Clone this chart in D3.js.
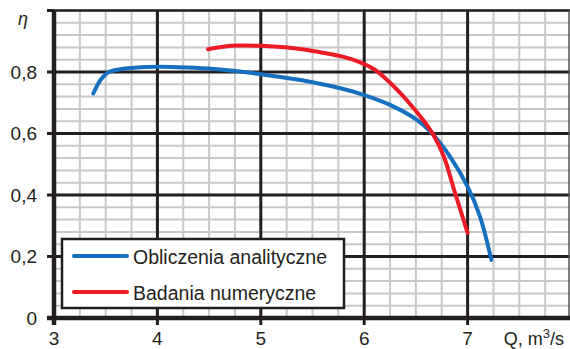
<!DOCTYPE html>
<html>
<head>
<meta charset="utf-8">
<script src="https://cdn.jsdelivr.net/npm/d3@7"></script>
<style>
  body { margin: 0; background: #fff; }
  svg { display: block; font-family: "Liberation Sans", Arial, sans-serif; }
</style>
</head>
<body>
<div id="chart"></div>
<script>
// ------ Data ------ //
const seriesNames = ["Obliczenia analityczne", "Badania numeryczne"];
const seriesColors = ["#1770bf", "#ed1c24"];

const blueQ   = [3.38, 3.45, 3.53, 3.64, 3.80, 4.00, 4.28, 4.55, 5.00, 5.40, 5.77, 6.00, 6.25, 6.51, 6.67, 6.83, 7.00, 7.12, 7.23];
const blueEta = [0.730, 0.774, 0.800, 0.809, 0.815, 0.817, 0.815, 0.810, 0.793, 0.773, 0.747, 0.725, 0.693, 0.644, 0.595, 0.525, 0.427, 0.330, 0.189];

const redQ   = [4.49, 4.65, 4.80, 5.00, 5.30, 5.55, 5.80, 5.95, 6.10, 6.25, 6.41, 6.57, 6.67, 6.77, 6.88, 7.00];
const redEta = [0.874, 0.883, 0.886, 0.885, 0.878, 0.866, 0.849, 0.833, 0.808, 0.765, 0.709, 0.644, 0.595, 0.525, 0.405, 0.277];

const xTicks = [3, 4, 5, 6, 7];
const yTicks = [0, 0.2, 0.4, 0.6, 0.8];

// ------ Drawing area ------ //
const width = 570;
const height = 349;
const svg = d3.select("#chart")
  .append("svg")
    .attr("width", width)
    .attr("height", height);

const x = d3.scaleLinear().domain([3, 8]).range([54, 571]);
const y = d3.scaleLinear().domain([0, 1]).range([318, 10.5]);

// ------ Grid ------ //
const minorX = d3.range(3, 8.001, 0.25);
const minorY = d3.range(0, 1.001, 0.04);

svg.append("g")
  .selectAll("line")
  .data(minorX)
  .join("line")
    .attr("x1", d => x(d)).attr("x2", d => x(d))
    .attr("y1", y(1)).attr("y2", y(0))
    .attr("stroke", "#c8c8c8")
    .attr("stroke-width", 2);

svg.append("g")
  .selectAll("line")
  .data(minorY)
  .join("line")
    .attr("x1", x(3)).attr("x2", x(8))
    .attr("y1", d => y(d)).attr("y2", d => y(d))
    .attr("stroke", "#c8c8c8")
    .attr("stroke-width", 2);

// major grid
svg.append("g")
  .selectAll("line")
  .data(xTicks.slice(1))
  .join("line")
    .attr("x1", d => x(d)).attr("x2", d => x(d))
    .attr("y1", y(1)).attr("y2", y(0) + 7)
    .attr("stroke", "#231f20")
    .attr("stroke-width", 3);

svg.append("g")
  .selectAll("line")
  .data(yTicks.slice(1))
  .join("line")
    .attr("x1", x(3) - 7).attr("x2", x(8))
    .attr("y1", d => y(d)).attr("y2", d => y(d))
    .attr("stroke", "#231f20")
    .attr("stroke-width", 3);

// top and right border
svg.append("line")
  .attr("x1", x(3)).attr("x2", x(8))
  .attr("y1", y(1)).attr("y2", y(1))
  .attr("stroke", "#231f20").attr("stroke-width", 2.5);
svg.append("line")
  .attr("x1", 569).attr("x2", 569)
  .attr("y1", y(1)).attr("y2", y(0))
  .attr("stroke", "#555").attr("stroke-width", 1.5);

// ------ Axes ------ //
const fmt = d => d === 0 ? "0" : d3.format(".1f")(d).replace(".", ",");

svg.append("line")
  .attr("x1", x(3)).attr("x2", x(3))
  .attr("y1", y(1)).attr("y2", y(0) + 7)
  .attr("stroke", "#231f20").attr("stroke-width", 4.5);
svg.append("line")
  .attr("x1", x(3) - 7).attr("x2", x(8))
  .attr("y1", y(0)).attr("y2", y(0))
  .attr("stroke", "#231f20").attr("stroke-width", 4.5);
// tick stub at top
svg.append("line")
  .attr("x1", x(3) - 7).attr("x2", x(3))
  .attr("y1", y(1)).attr("y2", y(1))
  .attr("stroke", "#231f20").attr("stroke-width", 3);

svg.append("g")
  .selectAll("text")
  .data(yTicks)
  .join("text")
    .attr("x", 37)
    .attr("y", d => y(d))
    .attr("text-anchor", "end")
    .attr("dominant-baseline", "central")
    .attr("font-size", 19)
    .attr("fill", "#231f20")
    .text(fmt);

svg.append("g")
  .selectAll("text")
  .data(xTicks)
  .join("text")
    .attr("x", d => x(d))
    .attr("y", 345)
    .attr("text-anchor", "middle")
    .attr("font-size", 19)
    .attr("fill", "#231f20")
    .text(d => d);

svg.append("text")
  .attr("x", 23).attr("y", 25)
  .attr("text-anchor", "middle")
  .attr("font-size", 18)
  .attr("font-style", "italic")
  .attr("fill", "#231f20")
  .text("η");

const qLabel = svg.append("text")
  .attr("x", 564).attr("y", 345)
  .attr("text-anchor", "end")
  .attr("font-size", 18)
  .attr("fill", "#231f20");
qLabel.append("tspan").text("Q, m");
qLabel.append("tspan").attr("dy", -7).attr("font-size", 13).text("3");
qLabel.append("tspan").attr("dy", 7).text("/s");

// ------ Curves ------ //
const line = d3.line()
  .x(d => x(d[0]))
  .y(d => y(d[1]))
  .curve(d3.curveCatmullRom.alpha(0.5));

const series = [
  d3.zip(blueQ, blueEta),
  d3.zip(redQ, redEta)
];

svg.append("g")
  .selectAll("path")
  .data(series)
  .join("path")
    .attr("d", line)
    .attr("fill", "none")
    .attr("stroke", (d, i) => seriesColors[i])
    .attr("stroke-width", 4)
    .attr("stroke-linecap", "round")
    .attr("stroke-linejoin", "round");

// ------ Legend ------ //
const legend = svg.append("g");
legend.append("rect")
  .attr("x", 62).attr("y", 239)
  .attr("width", 282).attr("height", 69)
  .attr("fill", "#fff")
  .attr("stroke", "#231f20")
  .attr("stroke-width", 2.5);

const items = legend.selectAll("g")
  .data(seriesNames)
  .join("g")
    .attr("transform", (d, i) => `translate(0, ${256 + i * 36})`);
items.append("line")
  .attr("x1", 74).attr("x2", 127)
  .attr("stroke", (d, i) => seriesColors[i])
  .attr("stroke-width", 4)
  .attr("stroke-linecap", "round");
items.append("text")
  .attr("x", 133)
  .attr("y", 1)
  .attr("dominant-baseline", "central")
  .attr("font-size", 19.5)
  .attr("fill", "#231f20")
  .text(d => d);
</script>
</body>
</html>
